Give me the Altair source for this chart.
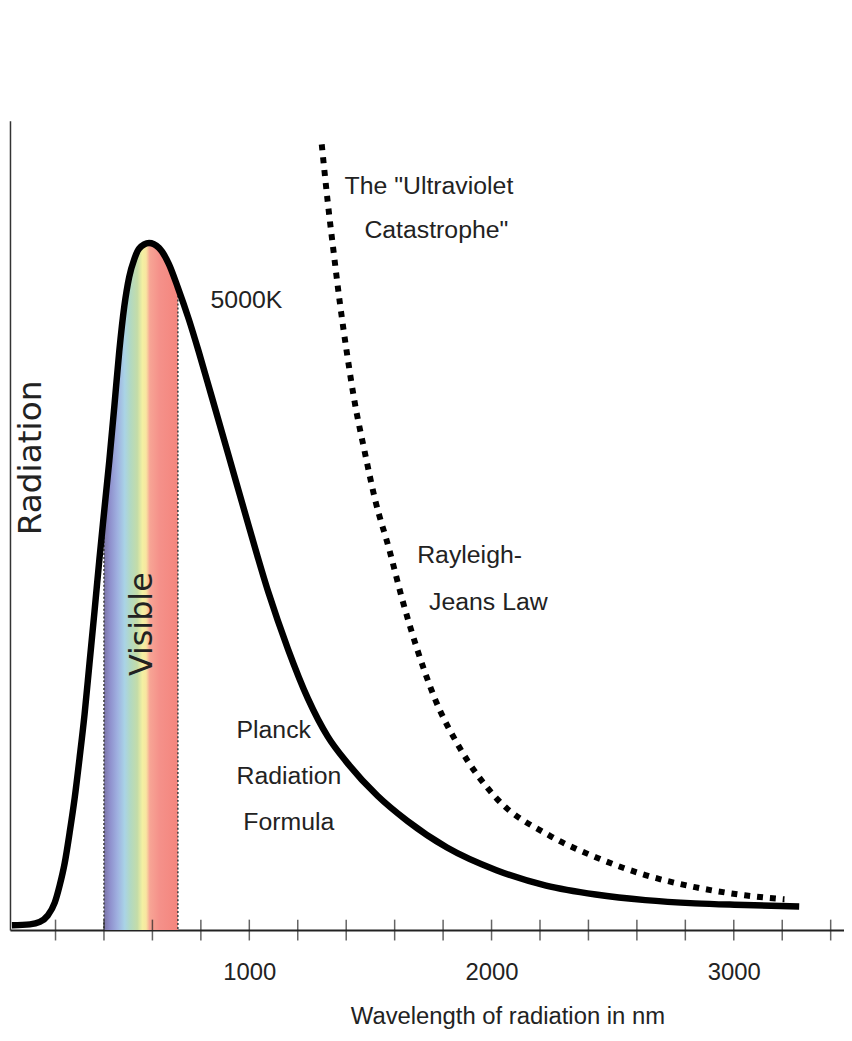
import altair as alt
import pandas as pd

# ---- data ----
planck_nm = [20, 94, 135, 168, 197, 217, 238, 258, 279, 299, 320, 340, 361, 381, 400,
             422, 443, 463, 484, 504, 525, 545, 586, 627, 668, 705, 750, 791, 844, 914,
             996, 1078, 1160, 1242, 1324, 1406, 1529, 1652, 1816, 2020, 2225, 2430,
             2635, 2840, 3045, 3270]
planck_val = [0.6, 0.7, 1.0, 1.8, 3.4, 5.5, 8.3, 12.0, 16.3, 21.2, 26.7, 32.9, 39.4,
              45.8, 51.5, 58.0, 64.8, 71.5, 77.1, 80.7, 82.9, 84.2, 84.9, 84.3, 82.3,
              79.4, 75.5, 71.5, 66.0, 58.7, 50.1, 41.8, 34.7, 28.6, 23.9, 20.6, 16.6,
              13.5, 10.2, 7.4, 5.5, 4.4, 3.7, 3.3, 3.1, 2.9]

rj_nm = [1299, 1324, 1348, 1373, 1402, 1434, 1475, 1520, 1578, 1631, 1693, 1766, 1869,
         2020, 2238, 2430, 2635, 2840, 3045, 3209]
rj_val = [97.1, 89.9, 83.8, 77.7, 71.5, 65.4, 59.3, 53.1, 47.0, 40.9, 34.7, 28.6, 22.5,
          16.3, 11.7, 9.0, 6.8, 5.3, 4.3, 3.8]

visible_nm = [400, 705]
visible_val = [51.5, 79.4]

tick_nm = [200, 400, 600, 800, 1000, 1200, 1400, 1600, 1800, 2000, 2200, 2400, 2600,
           2800, 3000, 3200, 3400]
label_nm = [1000, 2000, 3000]

ann_text = ['The "Ultraviolet', 'Catastrophe"', '5000K', 'Rayleigh-', 'Jeans Law',
            'Planck', 'Radiation', 'Formula']
ann_nm = [1393, 1475, 840, 1693, 1742, 947, 947, 975]
ann_val = [92.0, 86.5, 77.9, 46.4, 40.5, 24.7, 19.0, 13.3]

vis_label = ['Visible']
vis_label_nm = [557]
vis_label_val = [37.8]

# ---- tables ----
planck_df = pd.DataFrame({'nm': planck_nm, 'val': planck_val})
rj_df = pd.DataFrame({'nm': rj_nm, 'val': rj_val})
bounds_df = pd.DataFrame({'nm': visible_nm, 'val': visible_val, 'base': [0, 0]})
ticks_df = pd.DataFrame({'nm': tick_nm, 'val': [0] * len(tick_nm)})
ann_df = pd.DataFrame({'nm': ann_nm, 'val': ann_val, 'text': ann_text})
vis_df = pd.DataFrame({'nm': vis_label_nm, 'val': vis_label_val, 'text': vis_label})

SANS = "Liberation Sans, Arial, Helvetica, sans-serif"
WIDE = "DejaVu Sans, Verdana, sans-serif"
INK = '#222222'

x_scale = alt.Scale(domain=[12, 3455], nice=False, zero=False)
y_scale = alt.Scale(domain=[0, 100], nice=False, zero=False)

x_axis = alt.Axis(values=label_nm, format='d', ticks=False, tickSize=0, grid=False,
                  domainColor=INK, domainWidth=2,
                  labelFont=SANS, labelFontSize=24, labelColor=INK,
                  labelPadding=31, labelFlush=False,
                  title='Wavelength of radiation in nm', titleFont=SANS,
                  titleFontSize=24, titleFontWeight='normal', titleColor=INK,
                  titleX=501, titleY=94, titleAlign='center',
                  titleBaseline='alphabetic')
y_axis = alt.Axis(ticks=False, labels=False, grid=False, domainColor='#333333',
                  domainWidth=1.5, title='Radiation', titleFont=WIDE,
                  titleFontSize=33, titleFontWeight='normal', titleColor=INK,
                  titleAngle=270, titleX=21, titleY=339, titleAlign='center',
                  titleBaseline='middle')

X = alt.X('nm:Q', scale=x_scale, axis=x_axis)
Y = alt.Y('val:Q', scale=y_scale, axis=y_axis)

spectrum = alt.Gradient(
    gradient='linear', x1=0, x2=1, y1=0, y2=0,
    stops=[
        alt.GradientStop(offset=0.0, color='#7b74a6'),
        alt.GradientStop(offset=0.08, color='#8e8fcc'),
        alt.GradientStop(offset=0.18, color='#9fb0e0'),
        alt.GradientStop(offset=0.28, color='#a9d3e6'),
        alt.GradientStop(offset=0.36, color='#b2d9c2'),
        alt.GradientStop(offset=0.45, color='#c4dca8'),
        alt.GradientStop(offset=0.52, color='#f3f0a2'),
        alt.GradientStop(offset=0.57, color='#f8e6a0'),
        alt.GradientStop(offset=0.62, color='#f7a595'),
        alt.GradientStop(offset=0.75, color='#f5918a'),
        alt.GradientStop(offset=1.0, color='#f4857d'),
    ])

band = alt.Chart(planck_df).transform_filter(
    'datum.nm >= 400 && datum.nm <= 705'
).mark_area(color=spectrum, interpolate='monotone').encode(x=X, y=Y)

edges = alt.Chart(bounds_df).mark_rule(
    color='#444444', strokeDash=[2, 2], strokeWidth=1.6
).encode(x=X, y=Y, y2=alt.Y2('base:Q'))

planck = alt.Chart(planck_df).mark_line(
    color='#000000', strokeWidth=6.5, interpolate='monotone',
    strokeCap='butt', strokeJoin='round'
).encode(x=X, y=Y)

rj = alt.Chart(rj_df).mark_line(
    color='#000000', strokeWidth=6, strokeDash=[6, 7], interpolate='monotone',
    strokeCap='butt'
).encode(x=X, y=Y)

ticks = alt.Chart(ticks_df).mark_tick(
    orient='vertical', size=21, thickness=1.5, color=INK
).encode(x=X, y=Y)

notes = alt.Chart(ann_df).mark_text(
    align='left', baseline='middle', font=SANS, fontSize=25, color=INK
).encode(x=X, y=Y, text='text:N')

vis_note = alt.Chart(vis_df).mark_text(
    angle=270, align='center', baseline='middle', font=WIDE, fontSize=32, color=INK
).encode(x=X, y=Y, text='text:N')

chart = alt.layer(band, edges, planck, rj, ticks, notes, vis_note).properties(
    width=840, height=815,
    padding={'left': 2, 'top': 110, 'right': 0, 'bottom': 100},
    autosize=alt.AutoSizeParams(type='none'),
    background='white'
).configure_view(strokeWidth=0)

chart.save('out.html', embed_options={'renderer': 'svg', 'actions': False})
